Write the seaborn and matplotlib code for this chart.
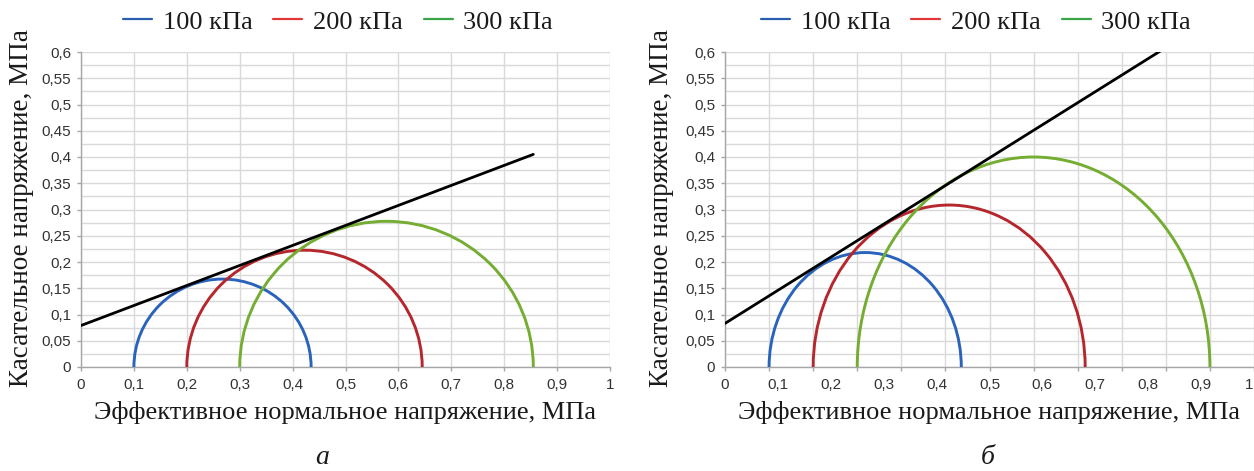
import numpy as np
import pandas as pd
import seaborn as sns
import matplotlib
matplotlib.use("Agg")
import matplotlib.pyplot as plt
from matplotlib.patches import Arc
from matplotlib.lines import Line2D
from matplotlib.ticker import MultipleLocator, NullFormatter

# ---------------- data ----------------
series_labels = ["100 кПа", "200 кПа", "300 кПа"]

# panel а : Mohr circles (sigma3, sigma1), MPa
a_sigma3 = [0.10, 0.20, 0.30]
a_sigma1 = [0.435, 0.645, 0.855]
a_env_x = [0.0, 0.855]
a_env_y = [0.079, 0.405]

# panel б : Mohr circles on the underlying 0..1.2 grid
b_sigma3 = [0.10, 0.20, 0.30]
b_sigma1 = [0.536, 0.817, 1.10]
b_env_x = [0.0, 1.10]
b_env_y = [0.083, 0.661]

x_tick_values = [0, 0.1, 0.2, 0.3, 0.4, 0.5, 0.6, 0.7, 0.8, 0.9, 1.0]
x_tick_labels = ["0", "0,1", "0,2", "0,3", "0,4", "0,5", "0,6", "0,7", "0,8", "0,9", "1"]
y_tick_values = [0, 0.05, 0.1, 0.15, 0.2, 0.25, 0.3, 0.35, 0.4, 0.45, 0.5, 0.55, 0.6]
y_tick_labels = ["0", "0,05", "0,1", "0,15", "0,2", "0,25", "0,3", "0,35", "0,4",
                 "0,45", "0,5", "0,55", "0,6"]

curve_colors = ["#2a63bb", "#b5272d", "#74ad32"]
legend_colors = ["#2a5fae", "#e03838", "#3aa548"]

xlabel = "Эффективное нормальное напряжение, МПа"
ylabel = "Касательное напряжение, МПа"
panel_letters = ["а", "б"]

# ---------------- style ----------------
sns.set_theme(style="white")
plt.rcParams["font.family"] = ["Liberation Sans", "DejaVu Sans"]
SERIF = ["Liberation Serif", "DejaVu Serif"]
SANS = ["Liberation Sans", "DejaVu Sans"]

W, H = 1254, 471
fig = plt.figure(figsize=(W / 100, H / 100), dpi=100)

def fx(px):
    return px / W

def fy(py):
    return 1 - py / H

ax_w = 529 / W
ax_h = 315 / H
ax_b = fy(367)
axA = fig.add_axes([fx(81), ax_b, ax_w, ax_h])
axB = fig.add_axes([fx(725), ax_b, ax_w, ax_h])

GRID = "#d9d9d9"
SPINE = "#a6a6a6"
TICKC = "#333333"


def style_axes(ax, xmax):
    ax.set_xlim(0, xmax)
    ax.set_ylim(0, 0.6)
    for s in ["top", "right"]:
        ax.spines[s].set_visible(False)
    for s in ["left", "bottom"]:
        ax.spines[s].set_color(SPINE)
        ax.spines[s].set_linewidth(1.0)
    ax.set_yticks(y_tick_values, y_tick_labels)
    ax.yaxis.set_minor_locator(MultipleLocator(0.025))
    ax.grid(True, which="major", color=GRID, lw=1.0)
    ax.grid(True, which="minor", axis="y", color=GRID, lw=1.0)
    ax.tick_params(axis="y", which="major", length=3, width=1, color=SPINE,
                   pad=4, labelsize=11, labelcolor=TICKC, left=True)
    ax.tick_params(axis="y", which="minor", length=0)
    ax.set_axisbelow(True)


def draw_panel(ax, s3, s1, ex, ey):
    for lo, hi, c in zip(s3, s1, curve_colors):
        d = hi - lo
        ax.add_patch(Arc(((lo + hi) / 2, 0), d, d, theta1=0, theta2=180,
                         color=c, lw=2.1, zorder=3))
    env = pd.DataFrame({"x": ex, "y": ey})
    sns.lineplot(data=env, x="x", y="y", ax=ax, color="black", lw=2.0,
                 zorder=4, legend=False)


# panel а
draw_panel(axA, a_sigma3, a_sigma1, a_env_x, a_env_y)
style_axes(axA, 1.0)
axA.set_xticks(x_tick_values, x_tick_labels)
axA.tick_params(axis="x", which="major", length=3, width=1, color=SPINE,
                pad=5, labelsize=11, labelcolor=TICKC, bottom=True)

# panel б: grid every 0.1 on a 0..1.2 range, labels 0..1 spread over full width
draw_panel(axB, b_sigma3, b_sigma1, b_env_x, b_env_y)
style_axes(axB, 1.2)
axB.xaxis.remove_overlapping_locs = False
axB.set_xticks([k * 0.1 for k in range(13)])
axB.xaxis.set_major_formatter(NullFormatter())
axB.set_xticks([min(v * 1.2, 1.19) for v in x_tick_values], x_tick_labels, minor=True)
axB.tick_params(axis="x", which="major", length=3, width=1, color=SPINE, bottom=True)
axB.tick_params(axis="x", which="minor", length=0, pad=8, labelsize=11,
                labelcolor=TICKC, bottom=True)
axB.set_xlim(0, 1.2)

for ax in (axA, axB):
    for t in ax.get_xticklabels(which="both") + ax.get_yticklabels():
        t.set_fontfamily(SANS)
    ax.set_ylabel("")
    ax.set_xlabel("")

# axis titles placed by pixel
for cx, ylx, letter_x, letter in [(345, 22, 322, panel_letters[0]),
                                  (989, 661, 988, panel_letters[1])]:
    fig.text(fx(cx), fy(413), xlabel, ha="center", va="center", fontsize=19,
             family=SERIF, color="#1a1a1a")
    fig.text(fx(ylx), fy(208), ylabel, ha="center", va="center", rotation=90,
             fontsize=19.5, family=SERIF, color="#1a1a1a")
    fig.text(fx(letter_x), fy(458), letter, ha="center", va="center", fontsize=20,
             family=SERIF, style="italic", color="#1a1a1a")

# legends
handles = [Line2D([0], [0], color=c, lw=1.6) for c in legend_colors]
for cx in (338, 976):
    fig.legend(handles, series_labels, loc="center", bbox_to_anchor=(fx(cx), fy(22)),
               ncol=3, frameon=False, handlelength=1.1, handletextpad=0.4,
               columnspacing=0.8, prop={"family": SERIF, "size": 19},
               labelcolor="#1a1a1a", borderaxespad=0, borderpad=0)

fig.savefig("out.png", dpi=100)
